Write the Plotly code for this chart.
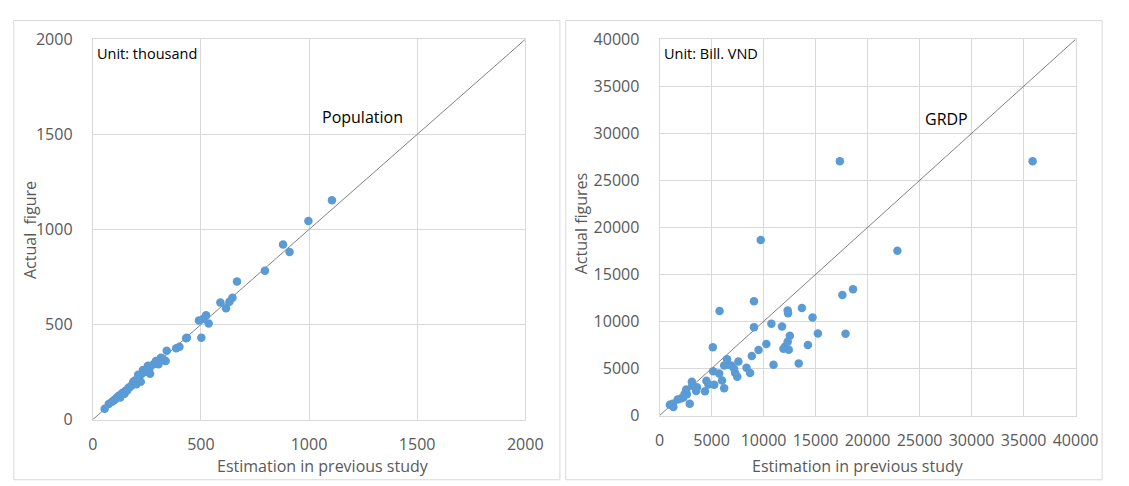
import plotly.graph_objects as go

W, H = 1129, 486

# Population (thousand persons): estimate from the previous study vs. actual figure
pop_est = [1106, 997, 880, 910, 796, 667, 646, 632, 590, 616, 524, 491, 512, 536,
           502, 435, 432, 401, 386, 342, 337, 315, 304, 292, 265, 255, 232, 210,
           222, 202, 187, 172, 160, 147, 127, 104, 89, 74, 55, 120, 135, 150, 165,
           180, 195, 212, 226, 240, 262, 280, 300, 320, 330, 113, 97, 140, 245]
pop_act = [1154, 1045, 921, 882, 783, 726, 641, 620, 616, 586, 549, 521, 531, 506,
           430, 430, 428, 383, 375, 362, 308, 325, 291, 308, 241, 283, 261, 236,
           199, 186, 199, 171, 154, 136, 116, 107, 94, 82, 57, 125, 138, 150, 168,
           180, 206, 215, 240, 252, 268, 290, 300, 322, 312, 118, 100, 142, 255]

# GRDP (billion VND): estimate from the previous study vs. actual figure
grdp_est = [17338, 35870, 9727, 22867, 18600, 17577, 9078, 5768, 13686, 12321,
            12355, 14710, 10751, 11775, 9078, 15222, 17884, 12526, 12321, 10273,
            14266, 5119, 12082, 11911, 12423, 9522, 8874, 6485, 7577, 10956,
            13379, 6212, 6894, 7167, 8362, 5154, 5734, 7270, 8703, 7474, 6007,
            4505, 5256, 3106, 3140, 6212, 3515, 4369, 2560, 2628, 2287, 1741,
            2901, 1263, 990, 1331, 3600, 2400, 6600, 4700, 2050]
grdp_act = [27050, 27050, 18664, 17515, 13424, 12815, 12139, 11124, 11429, 11158,
            10888, 10414, 9772, 9467, 9400, 8724, 8690, 8487, 7844, 7608,
            7506, 7270, 7337, 7101, 6999, 6965, 6323, 5985, 5748, 5410,
            5545, 5309, 5309, 4970, 5072, 4700, 4463, 4531, 4531, 4125, 3719,
            3686, 3280, 3584, 3178, 2908, 2604, 2570, 2773, 2265, 1927, 1691,
            1251, 1251, 1150, 913, 3000, 2300, 5400, 3300, 1800]

pop_ticks = [0, 500, 1000, 1500, 2000]
grdp_ticks = [0, 5000, 10000, 15000, 20000, 25000, 30000, 35000, 40000]

FONT = "Open Sans"
BLUE = "#5b9bd5"
GRID = "#d9d9d9"
LABEL = "#595959"


def px_x(v):
    return v / W


def px_y(v):
    return 1 - v / H


fig = go.Figure()

fig.add_trace(go.Scatter(x=[0, 2000], y=[0, 2000], mode="lines",
                         line=dict(color="#808080", width=1),
                         xaxis="x", yaxis="y", hoverinfo="skip"))
fig.add_trace(go.Scatter(x=pop_est, y=pop_act, mode="markers",
                         marker=dict(color=BLUE, size=8.5),
                         xaxis="x", yaxis="y"))
fig.add_trace(go.Scatter(x=[0, 40000], y=[0, 40000], mode="lines",
                         line=dict(color="#808080", width=1),
                         xaxis="x2", yaxis="y2", hoverinfo="skip"))
fig.add_trace(go.Scatter(x=grdp_est, y=grdp_act, mode="markers",
                         marker=dict(color=BLUE, size=8.5),
                         xaxis="x2", yaxis="y2"))

axis_common = dict(showgrid=True, gridcolor=GRID, gridwidth=1, zeroline=False,
                   showline=True, linecolor=GRID, linewidth=1, mirror=True,
                   ticks="", tickfont=dict(family=FONT, size=16, color=LABEL),
                   fixedrange=True)


def tick_axis(vals, **kw):
    return dict(tickvals=vals, ticktext=[str(v) for v in vals], **kw, **axis_common)


fig.update_layout(
    width=W, height=H,
    margin=dict(l=0, r=0, t=0, b=0),
    paper_bgcolor="white", plot_bgcolor="white",
    showlegend=False,
    xaxis=tick_axis(pop_ticks, domain=[px_x(90), px_x(533.5)], range=[0, 2000],
                    anchor="y", ticklabelstandoff=10),
    yaxis=tick_axis(pop_ticks, domain=[px_y(428), px_y(29.7)], range=[0, 2000],
                    anchor="x", ticklabelstandoff=16),
    xaxis2=tick_axis(grdp_ticks, domain=[px_x(671.2), px_x(1097.8)], range=[0, 40000],
                     anchor="y2", ticklabelstandoff=10),
    yaxis2=tick_axis(grdp_ticks, domain=[px_y(423.7), px_y(29.7)], range=[0, 40000],
                     anchor="x2", ticklabelstandoff=16),
)

# chart-area frames around each panel
for x0, x1 in [(9, 569), (575, 1125)]:
    fig.add_shape(type="rect", xref="paper", yref="paper",
                  x0=px_x(x0), x1=px_x(x1), y0=px_y(H + 5), y1=px_y(10),
                  line=dict(color=GRID, width=1), fillcolor="rgba(0,0,0,0)",
                  layer="below")

notes = [
    # text, x px, y px, size, color, anchor, angle
    ("Unit: thousand", 92.5, 45, 14.5, "black", "left", 0),
    ("Population", 323.5, 111.5, 16, "black", "left", 0),
    ("Unit: Bill. VND", 673.5, 44.5, 14.5, "black", "left", 0),
    ("GRDP", 941, 113, 16, "black", "left", 0),
    ("Estimation in previous study", 325.7, 476.5, 16, LABEL, "center", 0),
    ("Estimation in previous study", 875, 476.5, 16, LABEL, "center", 0),
    ("Actual\u00a0 figure", 25, 229, 16, LABEL, "center", -90),
    ("Actual figures", 591, 223, 16, LABEL, "center", -90),
]
for text, x, y, size, color, anchor, angle in notes:
    fig.add_annotation(text=text, xref="paper", yref="paper",
                       x=px_x(x), y=px_y(y), xanchor=anchor, yanchor="middle",
                       showarrow=False, textangle=angle,
                       font=dict(family=FONT, size=size, color=color))

fig.write_html("out.html")
